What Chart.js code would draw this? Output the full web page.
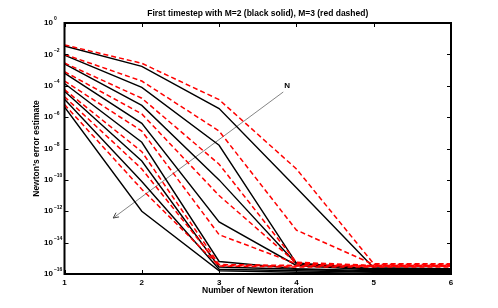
<!DOCTYPE html>
<html>
<head>
<meta charset="utf-8">
<script src="https://cdn.jsdelivr.net/npm/chart.js@4.4.1/dist/chart.umd.min.js"></script>
<style>
  html, body { margin: 0; padding: 0; background: #fff; }
  #wrap { width: 498px; height: 308px; }
</style>
</head>
<body>
<div id="wrap"><canvas id="chart" width="498" height="308"></canvas></div>
<script>
// données (erreur de Newton par itération)
var iterations = [1, 2, 3, 4, 5, 6];
var yTickExponents = [0, -2, -4, -6, -8, -10, -12, -14, -16];

// M=2, trait noir plein (du N le plus petit au plus grand)
var blackN1 = [3.4e-2, 1.7e-3, 3.5e-6, 3.2e-11, 2.5e-16, 2.2e-16];
var blackN2 = [8.9e-3, 7.9e-5, 1.6e-8, 5.0e-16, 2.2e-16, 2.2e-16];
var blackN3 = [2.5e-3, 5.6e-6, 1.0e-10, 4.5e-16, 2.0e-16, 2.0e-16];
var blackN4 = [6.3e-4, 4.0e-7, 2.1e-13, 3.5e-16, 1.8e-16, 1.8e-16];
var blackN5 = [1.4e-4, 2.5e-8, 6.3e-16, 2.2e-16, 1.6e-16, 1.6e-16];
var blackN6 = [4.5e-5, 1.6e-9, 2.8e-16, 2.0e-16, 1.4e-16, 1.4e-16];
var blackN7 = [1.4e-5, 7.9e-11, 2.0e-16, 1.6e-16, 1.3e-16, 1.3e-16];
var blackN8 = [4.5e-6, 1.0e-12, 1.6e-16, 1.3e-16, 1.1e-16, 1.1e-16];

// M=3, tirets rouges
var redN1 = [4.0e-2, 2.7e-3, 1.3e-5, 5.0e-10, 4.5e-16, 4.5e-16];
var redN2 = [1.0e-2, 2.0e-4, 1.3e-7, 6.3e-14, 4.0e-16, 4.0e-16];
var redN3 = [2.8e-3, 1.6e-5, 1.0e-9, 5.6e-16, 3.5e-16, 3.5e-16];
var redN4 = [7.9e-4, 1.6e-6, 1.0e-11, 5.0e-16, 3.2e-16, 3.2e-16];
var redN5 = [2.0e-4, 1.3e-7, 3.2e-14, 4.5e-16, 3.2e-16, 3.2e-16];
var redN6 = [5.6e-5, 6.3e-9, 4.0e-16, 3.5e-16, 3.5e-16, 3.5e-16];
var redN7 = [2.0e-5, 5.0e-10, 3.5e-16, 3.2e-16, 3.2e-16, 3.2e-16];
var redN8 = [6.3e-6, 2.5e-11, 3.2e-16, 2.8e-16, 2.8e-16, 2.8e-16];

// flèche "N" (début près du label, pointe en bas à gauche)
var arrowX = [3.83, 1.63];
var arrowY = [4.0e-5, 3.7e-13];

var blackSeries = [blackN1, blackN2, blackN3, blackN4, blackN5, blackN6, blackN7, blackN8];
var redSeries = [redN1, redN2, redN3, redN4, redN5, redN6, redN7, redN8];

var FAMILY = '"Liberation Sans", Arial, sans-serif';

function toPoints(values) {
    return values.map(function(v, i) { return { x: iterations[i], y: v }; });
}

var datasets = [];
redSeries.forEach(function(s) {
    datasets.push({
        data: toPoints(s),
        borderColor: '#ff0000',
        borderWidth: 1.5,
        borderDash: [5, 3],
        pointRadius: 0,
        tension: 0
    });
});
blackSeries.forEach(function(s) {
    datasets.push({
        data: toPoints(s),
        borderColor: '#000000',
        borderWidth: 1.4,
        pointRadius: 0,
        tension: 0
    });
});
datasets.push({
    data: [{ x: arrowX[0], y: arrowY[0] }, { x: arrowX[1], y: arrowY[1] }],
    borderColor: '#666666',
    borderWidth: 0.8,
    pointRadius: 0,
    tension: 0
});

// cadre, graduations vers l'intérieur, textes
var decorPlugin = {
    id: 'decor',
    afterDatasetsDraw: function(chart) {
        var ctx = chart.ctx;
        var a = chart.chartArea;
        var xs = chart.scales.x;
        var ys = chart.scales.y;
        ctx.save();

        // pointe de flèche
        var x0 = xs.getPixelForValue(arrowX[0]), y0 = ys.getPixelForValue(arrowY[0]);
        var x1 = xs.getPixelForValue(arrowX[1]), y1 = ys.getPixelForValue(arrowY[1]);
        var ang = Math.atan2(y1 - y0, x1 - x0);
        ctx.strokeStyle = '#444';
        ctx.lineWidth = 1;
        ctx.beginPath();
        ctx.moveTo(x1 - 6 * Math.cos(ang - 0.45), y1 - 6 * Math.sin(ang - 0.45));
        ctx.lineTo(x1, y1);
        ctx.lineTo(x1 - 6 * Math.cos(ang + 0.45), y1 - 6 * Math.sin(ang + 0.45));
        ctx.stroke();

        ctx.fillStyle = '#000';
        ctx.font = 'bold 8px ' + FAMILY;
        ctx.textAlign = 'center';
        ctx.textBaseline = 'middle';
        ctx.fillText('N', x0 + 4, y0 - 6);

        // cadre
        ctx.strokeStyle = '#000';
        ctx.lineWidth = 2;
        ctx.strokeRect(a.left, a.top, a.right - a.left, a.bottom - a.top);

        // graduations
        ctx.lineWidth = 1;
        ctx.beginPath();
        iterations.forEach(function(it) {
            var px = Math.round(xs.getPixelForValue(it)) + 0.5;
            ctx.moveTo(px, a.bottom); ctx.lineTo(px, a.bottom - 4);
            ctx.moveTo(px, a.top); ctx.lineTo(px, a.top + 4);
        });
        yTickExponents.forEach(function(e) {
            var py = Math.round(ys.getPixelForValue(Math.pow(10, e))) + 0.5;
            ctx.moveTo(a.left, py); ctx.lineTo(a.left + 4, py);
            ctx.moveTo(a.right, py); ctx.lineTo(a.right - 4, py);
        });
        ctx.stroke();

        // étiquettes de l'axe y : 10^e
        ctx.textAlign = 'left';
        yTickExponents.forEach(function(e) {
            var py = ys.getPixelForValue(Math.pow(10, e));
            ctx.font = 'bold 8px ' + FAMILY;
            ctx.fillText('10', 44, py);
            var w = ctx.measureText('10').width;
            ctx.font = 'bold 5px ' + FAMILY;
            ctx.fillText(e === 0 ? '0' : '\u2212' + (-e), 44 + w + 1, py - 4);
        });

        // titres
        ctx.textAlign = 'center';
        ctx.font = 'bold 8.5px ' + FAMILY;
        ctx.fillText('First timestep with M=2 (black solid), M=3 (red dashed)', (a.left + a.right) / 2, 14);
        ctx.fillText('Number of Newton iteration', (a.left + a.right) / 2, 291);
        ctx.translate(37, (a.top + a.bottom) / 2);
        ctx.rotate(-Math.PI / 2);
        ctx.fillText('Newton\u2019s error estimate', 0, 0);
        ctx.restore();
    }
};

var chart = new Chart(document.getElementById('chart'), {
    type: 'line',
    data: { datasets: datasets },
    options: {
        responsive: false,
        animation: false,
        events: [],
        layout: { padding: { top: 23, right: 47, bottom: 0, left: 0 } },
        plugins: {
            legend: { display: false },
            tooltip: { enabled: false },
            title: { display: false }
        },
        scales: {
            x: {
                type: 'linear',
                min: 1,
                max: 6,
                grid: { display: false, drawTicks: false },
                border: { display: false },
                ticks: {
                    stepSize: 1,
                    padding: 4,
                    color: '#000',
                    font: { family: FAMILY, size: 8, weight: 'bold' }
                },
                afterFit: function(scale) { scale.height = 34; }
            },
            y: {
                type: 'logarithmic',
                min: 1e-16,
                max: 1,
                grid: { display: false, drawTicks: false },
                border: { display: false },
                ticks: { display: false },
                afterFit: function(scale) { scale.width = 64.5; }
            }
        }
    },
    plugins: [decorPlugin]
});
</script>
</body>
</html>
